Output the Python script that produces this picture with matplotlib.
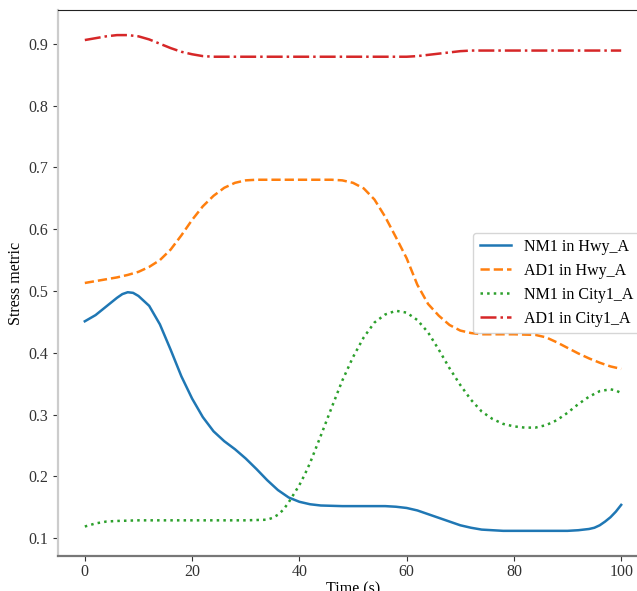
import numpy as np
import matplotlib
matplotlib.use("Agg")
import matplotlib.pyplot as plt

plt.rcParams['font.family'] = ['Liberation Serif', 'DejaVu Serif']

# values
nm1_hwy_t = [0, 2, 4, 6, 7, 8, 9, 10, 12, 14, 16, 18, 20, 22, 24, 26, 28, 30, 32, 34, 36,
             38, 40, 42, 44, 48, 52, 56, 58, 60, 62, 64, 66, 68, 70, 72, 74, 76, 78, 80,
             85, 90, 92, 94, 95, 96, 97, 98, 99, 100]
nm1_hwy = [0.451, 0.461, 0.475, 0.489, 0.495, 0.498, 0.497, 0.492, 0.476, 0.446, 0.405,
           0.362, 0.326, 0.296, 0.273, 0.257, 0.244, 0.229, 0.212, 0.194, 0.178, 0.166,
           0.159, 0.155, 0.153, 0.152, 0.152, 0.152, 0.151, 0.149, 0.145, 0.139, 0.133,
           0.127, 0.121, 0.117, 0.114, 0.113, 0.112, 0.112, 0.112, 0.112, 0.113, 0.115,
           0.117, 0.121, 0.127, 0.134, 0.143, 0.154]

ad1_hwy_t = [0, 2, 4, 6, 8, 10, 12, 14, 16, 18, 20, 22, 24, 26, 28, 30, 32, 40, 46, 48,
             50, 52, 54, 56, 58, 60, 62, 64, 66, 68, 70, 72, 74, 80, 84, 86, 88, 90, 92,
             94, 96, 98, 100]
ad1_hwy = [0.513, 0.516, 0.519, 0.522, 0.526, 0.531, 0.539, 0.550, 0.567, 0.590, 0.615,
           0.637, 0.654, 0.667, 0.675, 0.679, 0.680, 0.680, 0.680, 0.679, 0.675, 0.666,
           0.648, 0.620, 0.587, 0.553, 0.510, 0.479, 0.460, 0.445, 0.436, 0.432, 0.430,
           0.430, 0.429, 0.425, 0.417, 0.408, 0.399, 0.391, 0.384, 0.378, 0.374]

nm1_city_t = [0, 2, 4, 6, 10, 20, 30, 34, 35, 36, 37, 38, 39, 40, 41, 42, 44, 46, 48, 50,
              52, 54, 56, 58, 60, 62, 64, 66, 68, 70, 72, 74, 76, 78, 80, 82, 84, 86, 88,
              90, 92, 94, 96, 98, 99, 100]
nm1_city = [0.119, 0.124, 0.127, 0.128, 0.129, 0.129, 0.129, 0.130, 0.133, 0.138, 0.146,
            0.158, 0.172, 0.186, 0.203, 0.222, 0.266, 0.311, 0.355, 0.393, 0.425, 0.449,
            0.462, 0.468, 0.465, 0.453, 0.433, 0.405, 0.375, 0.348, 0.324, 0.305, 0.293,
            0.285, 0.281, 0.279, 0.279, 0.283, 0.291, 0.303, 0.317, 0.329, 0.338, 0.341,
            0.339, 0.335]

ad1_city_t = [0, 2, 4, 6, 8, 10, 12, 14, 16, 18, 20, 22, 24, 30, 40, 50, 60, 62, 64, 66,
              68, 70, 72, 74, 80, 90, 100]
ad1_city = [0.906, 0.909, 0.912, 0.914, 0.914, 0.912, 0.907, 0.900, 0.893, 0.887, 0.883,
            0.880, 0.879, 0.879, 0.879, 0.879, 0.879, 0.880, 0.882, 0.884, 0.886, 0.888,
            0.889, 0.889, 0.889, 0.889, 0.889]

fig = plt.figure(figsize=(6.37, 5.91), dpi=100)
ax = fig.add_axes([58 / 637, 35 / 591, 590 / 637, 546 / 591])

ax.plot(nm1_hwy_t, nm1_hwy, color='#1f77b4', ls='-', lw=1.8, label='NM1 in Hwy_A')
ax.plot(ad1_hwy_t, ad1_hwy, color='#ff7f0e', ls='--', lw=1.8, label='AD1 in Hwy_A')
ax.plot(nm1_city_t, nm1_city, color='#2ca02c', ls=':', lw=1.8, label='NM1 in City1_A')
ax.plot(ad1_city_t, ad1_city, color='#d62728', ls='-.', lw=1.8, label='AD1 in City1_A')

ax.set_xlim(-5, 105)
ax.set_ylim(0.0713, 0.9546)
ax.set_xticks([0, 20, 40, 60, 80, 100])
ax.set_yticks([0.1, 0.2, 0.3, 0.4, 0.5, 0.6, 0.7, 0.8, 0.9])
ax.tick_params(labelsize=11.5, colors='#333333')
ax.tick_params(axis='x', pad=2.5)

ax.spines['left'].set_color('#cccccc')
ax.spines['left'].set_linewidth(1.6)
ax.spines['bottom'].set_color('#777777')
ax.spines['bottom'].set_linewidth(1.6)
ax.spines['top'].set_color('#222222')
ax.spines['right'].set_visible(False)

ax.set_xlabel('Time (s)', fontsize=11.5, labelpad=1)
ax.set_ylabel('Stress metric', fontsize=11.5, labelpad=3)

ax.legend(loc='center right', fontsize=11.5)

fig.savefig('out.png', dpi=100)
